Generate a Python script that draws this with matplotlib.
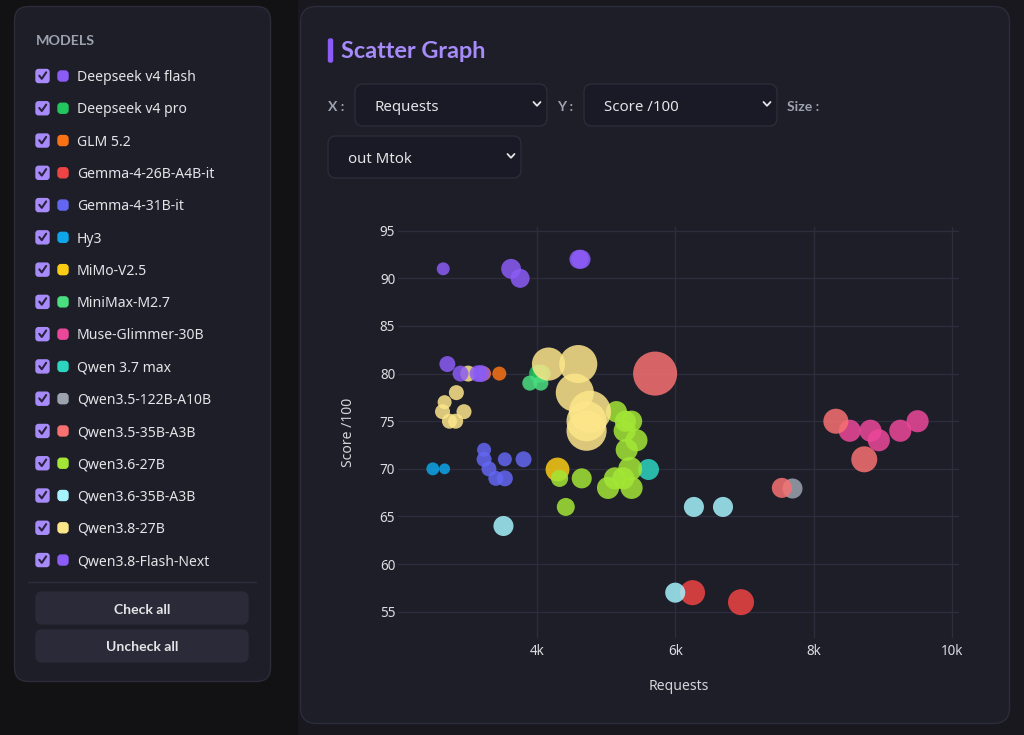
import matplotlib
matplotlib.use("Agg")
import matplotlib.pyplot as plt
from matplotlib.patches import FancyBboxPatch, Rectangle
from matplotlib.ticker import FuncFormatter
import numpy as np

plt.rcParams['font.family'] = ['Noto Sans', 'DejaVu Sans']
BOLD_FAMILY = ['Lato', 'DejaVu Sans']

# ---------------- data ----------------
models = ["Deepseek v4 flash", "Deepseek v4 pro", "GLM 5.2", "Gemma-4-26B-A4B-it",
          "Gemma-4-31B-it", "Hy3", "MiMo-V2.5", "MiniMax-M2.7", "Muse-Glimmer-30B",
          "Qwen 3.7 max", "Qwen3.5-122B-A10B", "Qwen3.5-35B-A3B", "Qwen3.6-27B",
          "Qwen3.6-35B-A3B", "Qwen3.8-27B", "Qwen3.8-Flash-Next"]
colors = ["#8b5cf6", "#22c55e", "#f97316", "#ef4444", "#6366f1", "#0ea5e9", "#facc15",
          "#4ade80", "#ec4899", "#2dd4bf", "#9ca3af", "#f87171", "#a3e635", "#a5f3fc",
          "#fde68a", "#8b5cf6"]

requests = [
    [3630, 3760, 4610, 4640],
    [4020, 4070],
    [3240, 3460],
    [6250, 6950],
    [3240, 3240, 3310, 3410, 3540, 3540, 3810],
    [2500, 2670],
    [4300],
    [3900, 4060],
    [8520, 8820, 8940, 9250, 9500],
    [5600],
    [7690],
    [5710, 7540, 8320, 8730],
    [5150, 5280, 5370, 5270, 5440, 5300, 5350, 5130, 5250, 5030, 5370, 4650, 4330, 4420],
    [3520, 6270, 6690, 6000],
    [3010, 2840, 2670, 2640, 2950, 2740, 2830, 4170, 4600, 4550, 4770, 4720, 4720],
    [2650, 2710, 2900, 3150, 3200],
]
scores = [
    [91, 90, 92, 92],
    [80, 80],
    [80, 80],
    [57, 56],
    [72, 71, 70, 69, 69, 71, 71],
    [70, 70],
    [70],
    [79, 79],
    [74, 74, 73, 74, 75],
    [70],
    [68],
    [80, 68, 75, 71],
    [76, 75, 75, 74, 73, 72, 70, 69, 69, 68, 68, 69, 69, 66],
    [64, 66, 66, 57],
    [80, 78, 77, 76, 76, 75, 75, 81, 81, 78, 76, 75, 74],
    [91, 81, 80, 80, 80],
]
out_mtok = [
    [2.0, 1.85, 1.85, 1.85],
    [1.65, 1.65],
    [1.0, 1.0],
    [3.2, 3.45],
    [1.0, 1.15, 1.15, 1.15, 1.3, 1.0, 1.3],
    [0.85, 0.6],
    [2.9],
    [1.15, 1.15],
    [2.5, 2.5, 2.5, 2.5, 2.5],
    [2.25],
    [2.05],
    [9.9, 2.05, 3.2, 3.45],
    [2.3, 2.3, 2.3, 2.5, 2.5, 2.5, 2.9, 2.5, 2.5, 2.5, 2.5, 2.05, 1.5, 1.65],
    [2.05, 2.05, 2.05, 2.05],
    [1.3, 1.15, 1.0, 1.15, 1.15, 1.15, 1.15, 5.6, 7.4, 7.4, 9.0, 8.2, 8.2],
    [0.85, 1.3, 1.3, 1.4, 1.45],
]
x_ticks = [4000, 6000, 8000, 10000]
y_ticks = [55, 60, 65, 70, 75, 80, 85, 90, 95]

# ---------------- figure ----------------
W, H = 1024, 735
PX = 0.72  # points per pixel at dpi 100
fig = plt.figure(figsize=(W / 100, H / 100), dpi=100)
fig.patch.set_facecolor('#121214')
bg = fig.add_axes([0, 0, 1, 1])
bg.set_xlim(0, W)
bg.set_ylim(H, 0)
bg.axis('off')
bg.set_zorder(0)

PANEL = '#1e1e29'
BORDER = '#2c2c3a'
TEXT = '#e4e4e7'
MUTED = '#9ca3af'


def rbox(x0, y0, x1, y1, r, fc, ec=None, lw=1.0, z=1):
    p = FancyBboxPatch((x0, y0), x1 - x0, y1 - y0,
                       boxstyle=f"round,pad=0,rounding_size={r}",
                       fc=fc, ec=ec if ec else fc, lw=lw, zorder=z)
    bg.add_patch(p)


def btext(x, y, s, size, color, **kw):
    bg.text(x, y, s, color=color, fontsize=size * PX, fontweight='bold',
            family=BOLD_FAMILY, va='center', zorder=3, **kw)


def chevron(cx, cy):
    bg.plot([cx - 3.5, cx, cx + 3.5], [cy - 2, cy + 1.8, cy - 2], color=TEXT,
            lw=1.3, solid_capstyle='round', solid_joinstyle='round', zorder=3)


# background strip of main column
bg.add_patch(Rectangle((298, 0), W - 298, H, fc='#18181e', ec='none', zorder=0))

# sidebar
rbox(14.5, 6.5, 270.5, 681.5, 14, PANEL, BORDER)
btext(36, 40.5, "MODELS", 14.3, MUTED, ha='left')
for i, (name, col) in enumerate(zip(models, colors)):
    y = 76.5 + i * 32.27
    rbox(36, y - 7, 49, y + 6, 2.5, '#a78bfa', z=2)
    bg.plot([39.3, 41.8, 46.2], [y - 0.8, y + 2.3, y - 4.2], color='#2a2340', lw=1.5,
            solid_capstyle='round', solid_joinstyle='round', zorder=3)
    rbox(58, y - 5.5, 68, y + 4.5, 3, col, z=2)
    bg.text(77, y + 1.2, name, color=TEXT, fontsize=14 * PX, va='center', ha='left', zorder=3)
bg.plot([28, 256], [581.5, 581.5], color=BORDER, lw=1, zorder=2)
rbox(36, 592, 248, 624, 6, '#2a2a38', z=2)
btext(142, 609.5, "Check all", 14, TEXT, ha='center')
rbox(36, 630, 248, 662, 6, '#2a2a38', z=2)
btext(142, 647, "Uncheck all", 14, TEXT, ha='center')

# main panel
rbox(300.5, 6.5, 1009.5, 723.5, 16, PANEL, BORDER)
rbox(328.5, 39, 332.5, 62, 1.5, '#8b5cf6', z=2)
btext(341, 51, "Scatter Graph", 23.5, '#a78bfa', ha='left')

# controls
btext(328, 106.5, "X :", 14, MUTED, ha='left')
rbox(355, 84, 547, 126, 8, '#1a1a26', BORDER, z=2)
bg.text(375, 107, "Requests", color=TEXT, fontsize=15 * PX, va='center', zorder=3)
chevron(537, 104)
btext(557, 106.5, "Y :", 14, MUTED, ha='left')
rbox(584, 84, 777, 126, 8, '#1a1a26', BORDER, z=2)
bg.text(604, 107, "Score /100", color=TEXT, fontsize=15 * PX, va='center', zorder=3)
chevron(767, 104)
btext(787, 106.5, "Size :", 14, MUTED, ha='left')
rbox(328, 136, 521, 178, 8, '#1a1a26', BORDER, z=2)
bg.text(348, 159, "out Mtok", color=TEXT, fontsize=15 * PX, va='center', zorder=3)
chevron(511, 156)

# axis titles
bg.text(349, 432, "Score /100", color='#d4d4d8', fontsize=14 * PX, rotation=90,
        ha='center', va='center', zorder=3)
bg.text(679, 687, "Requests", color='#d4d4d8', fontsize=14 * PX,
        ha='center', va='center', zorder=3)

# ---------------- plot ----------------
L, R, T, B = 398, 959, 227, 638
ax = fig.add_axes([L / W, 1 - B / H, (R - L) / W, (B - T) / H])
ax.set_zorder(2)
ax.set_facecolor('none')
for s in ax.spines.values():
    s.set_visible(False)
ax.set_xlim(1997, 10098)
ax.set_ylim(52.24, 95.39)
ax.set_xticks(x_ticks)
ax.set_yticks(y_ticks)
ax.xaxis.set_major_formatter(FuncFormatter(lambda v, p: f"{int(v / 1000)}k"))
ax.grid(True, color='#2d2d3b', lw=1)
ax.set_axisbelow(True)
ax.tick_params(length=0, colors='#dcdce0', labelsize=13.5 * PX)
ax.tick_params(axis='y', pad=2)
ax.tick_params(axis='x', pad=4)

for xs, ys, ss, col in zip(requests, scores, out_mtok, colors):
    d = 14 * np.sqrt(np.array(ss))  # diameter in px
    ax.scatter(xs, ys, s=(d * PX) ** 2, c=col, alpha=0.85, linewidths=0, zorder=3)

fig.savefig("out.png", dpi=100, facecolor=fig.get_facecolor())
